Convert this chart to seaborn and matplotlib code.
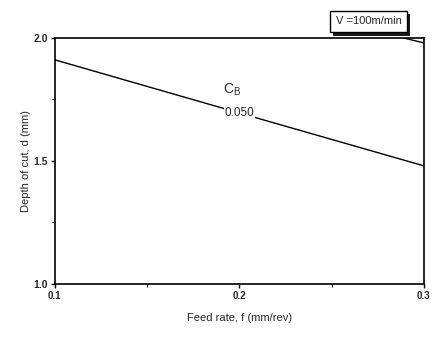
import numpy as np
import pandas as pd
import matplotlib
matplotlib.use("Agg")
import matplotlib.pyplot as plt
import matplotlib.patheffects as pe
import seaborn as sns

# data
feed_rate = [0.1, 0.2, 0.3]
depth_cb050 = [1.911, 1.695, 1.480]
feed_rate_top = [0.289, 0.3]
depth_top = [2.0, 1.98]
x_ticks = [0.1, 0.2, 0.3]
x_tick_labels = ["0.1", "0.2", "0.3"]
y_ticks = [1.0, 1.5, 2.0]
y_tick_labels = ["1.0", "1.5", "2.0"]
contour_label = "0.050"

sns.set_style("ticks")
plt.rcParams["font.family"] = ["Liberation Sans", "DejaVu Sans"]

fig = plt.figure(figsize=(4.32, 3.58), dpi=100)
ax = fig.add_axes([0.127, 0.207, 0.854, 0.687])

df = pd.DataFrame({"f": feed_rate, "d": depth_cb050})
sns.lineplot(data=df, x="f", y="d", ax=ax, color="black", linewidth=1.0)
df_top = pd.DataFrame({"f": feed_rate_top, "d": depth_top})
sns.lineplot(data=df_top, x="f", y="d", ax=ax, color="black", linewidth=1.0)

# inline contour label on the line
ax.text(feed_rate[1], depth_cb050[1], contour_label, ha="center", va="center",
        fontsize=8.5, bbox=dict(facecolor="white", edgecolor="none", pad=0.5))
ax.text(0.196, 1.79, r"C$_\mathregular{B}$", ha="center", va="center", fontsize=10)

ax.set_xlim(0.1, 0.3)
ax.set_ylim(1.0, 2.0)
ax.set_xticks(x_ticks)
ax.set_xticklabels(x_tick_labels, fontsize=7, fontweight="bold")
ax.set_yticks(y_ticks)
ax.set_yticklabels(y_tick_labels, fontsize=7.5, fontweight="bold")
ax.set_xticks([0.15, 0.25], minor=True)
ax.set_yticks([1.25, 1.75], minor=True)
ax.tick_params(which="major", direction="out", length=3, width=1, color="black", pad=2)
ax.tick_params(which="minor", direction="out", length=2, width=0.8, color="black")
for s in ax.spines.values():
    s.set_visible(True)
    s.set_linewidth(1.2)
    s.set_color("black")

ax.set_xlabel("Feed rate, f (mm/rev)", fontsize=8, labelpad=9)
ax.set_ylabel("Depth of cut, d (mm)", fontsize=8, labelpad=2)

# speed box with shadow, above the plot
box = fig.text(0.853, 0.94, "V =100m/min", ha="center", va="center", fontsize=8,
               bbox=dict(boxstyle="square,pad=0.5", facecolor="white", edgecolor="black",
                         linewidth=1.0))
box.get_bbox_patch().set_path_effects([
    pe.SimplePatchShadow(offset=(2.5, -2.5), shadow_rgbFace="black", alpha=0.9),
    pe.Normal(),
])
fig.savefig("out.png", dpi=100)
